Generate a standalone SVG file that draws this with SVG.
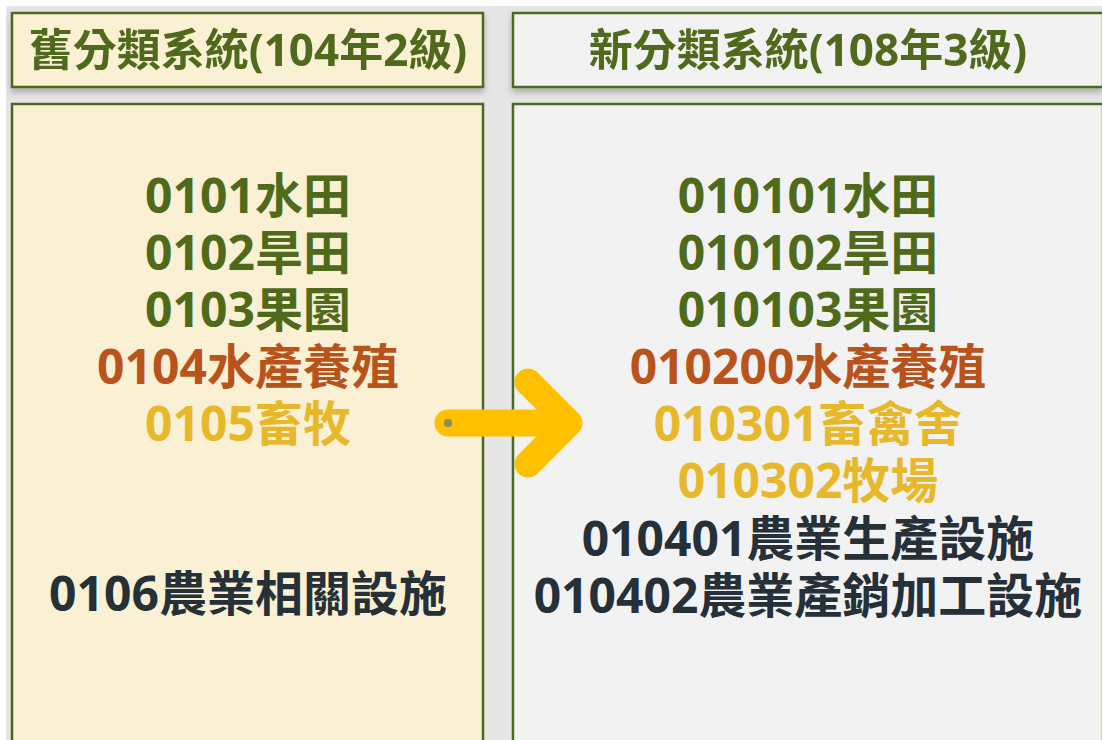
<svg xmlns="http://www.w3.org/2000/svg" width="1102" height="740" viewBox="0 0 1102 740">
<defs>
<style>
.box{stroke:#4b6a1f;stroke-width:2.5}
.old{fill:#faf0d3}
.new{fill:#f2f2f2}
text{font-family:"Noto Sans","Noto Sans CJK TC",sans-serif;font-weight:700;text-anchor:middle}
.hd{font-size:44px;fill:#4f6a1a}
.it{font-size:48px}
.g{fill:#4f6a1a}
.o{fill:#b9531c}
.y{fill:#e6b82a}
.d{fill:#253038}
</style>
<filter id="sh" x="-5%" y="-20%" width="110%" height="150%">
<feDropShadow dx="0" dy="4" stdDeviation="3" flood-color="#000" flood-opacity="0.25"/>
</filter>
</defs>
<rect width="1102" height="740" fill="#ffffff"/>
<rect x="6" y="6" width="1096" height="734" fill="#e6e6e6"/>
<g id="old-header" filter="url(#sh)">
<rect class="box old" x="12" y="13" width="471" height="74"/>
<text class="hd" x="248" y="66">舊分類系統(104年2級)</text>
</g>
<g id="new-header" filter="url(#sh)">
<rect class="box new" x="513" y="13" width="590" height="74"/>
<text class="hd" x="808" y="66">新分類系統(108年3級)</text>
</g>
<g id="old-body">
<rect class="box old" x="12" y="104" width="471" height="645"/>
<text class="it g" x="248" y="213">0101水田</text>
<text class="it g" x="248" y="270">0102旱田</text>
<text class="it g" x="248" y="327">0103果園</text>
<text class="it o" x="248" y="384">0104水產養殖</text>
<text class="it y" x="248" y="441">0105畜牧</text>
<text class="it d" x="248" y="611">0106農業相關設施</text>
</g>
<g id="new-body">
<rect class="box new" x="513" y="104" width="590" height="645"/>
<text class="it g" x="808" y="213">010101水田</text>
<text class="it g" x="808" y="270">010102旱田</text>
<text class="it g" x="808" y="327">010103果園</text>
<text class="it o" x="808" y="384">010200水產養殖</text>
<text class="it y" x="808" y="441">010301畜禽舍</text>
<text class="it y" x="808" y="498">010302牧場</text>
<text class="it d" x="808" y="556">010401農業生產設施</text>
<text class="it d" x="808" y="613">010402農業產銷加工設施</text>
</g>
<g id="connectors">
<path d="M448,423 H566 M528,382 L569,423 L528,464" fill="none" stroke="#ffc000" stroke-width="27" stroke-linecap="round" stroke-linejoin="round"/>
<circle cx="448" cy="423" r="4" fill="#8c8a60"/>
</g>
</svg>
